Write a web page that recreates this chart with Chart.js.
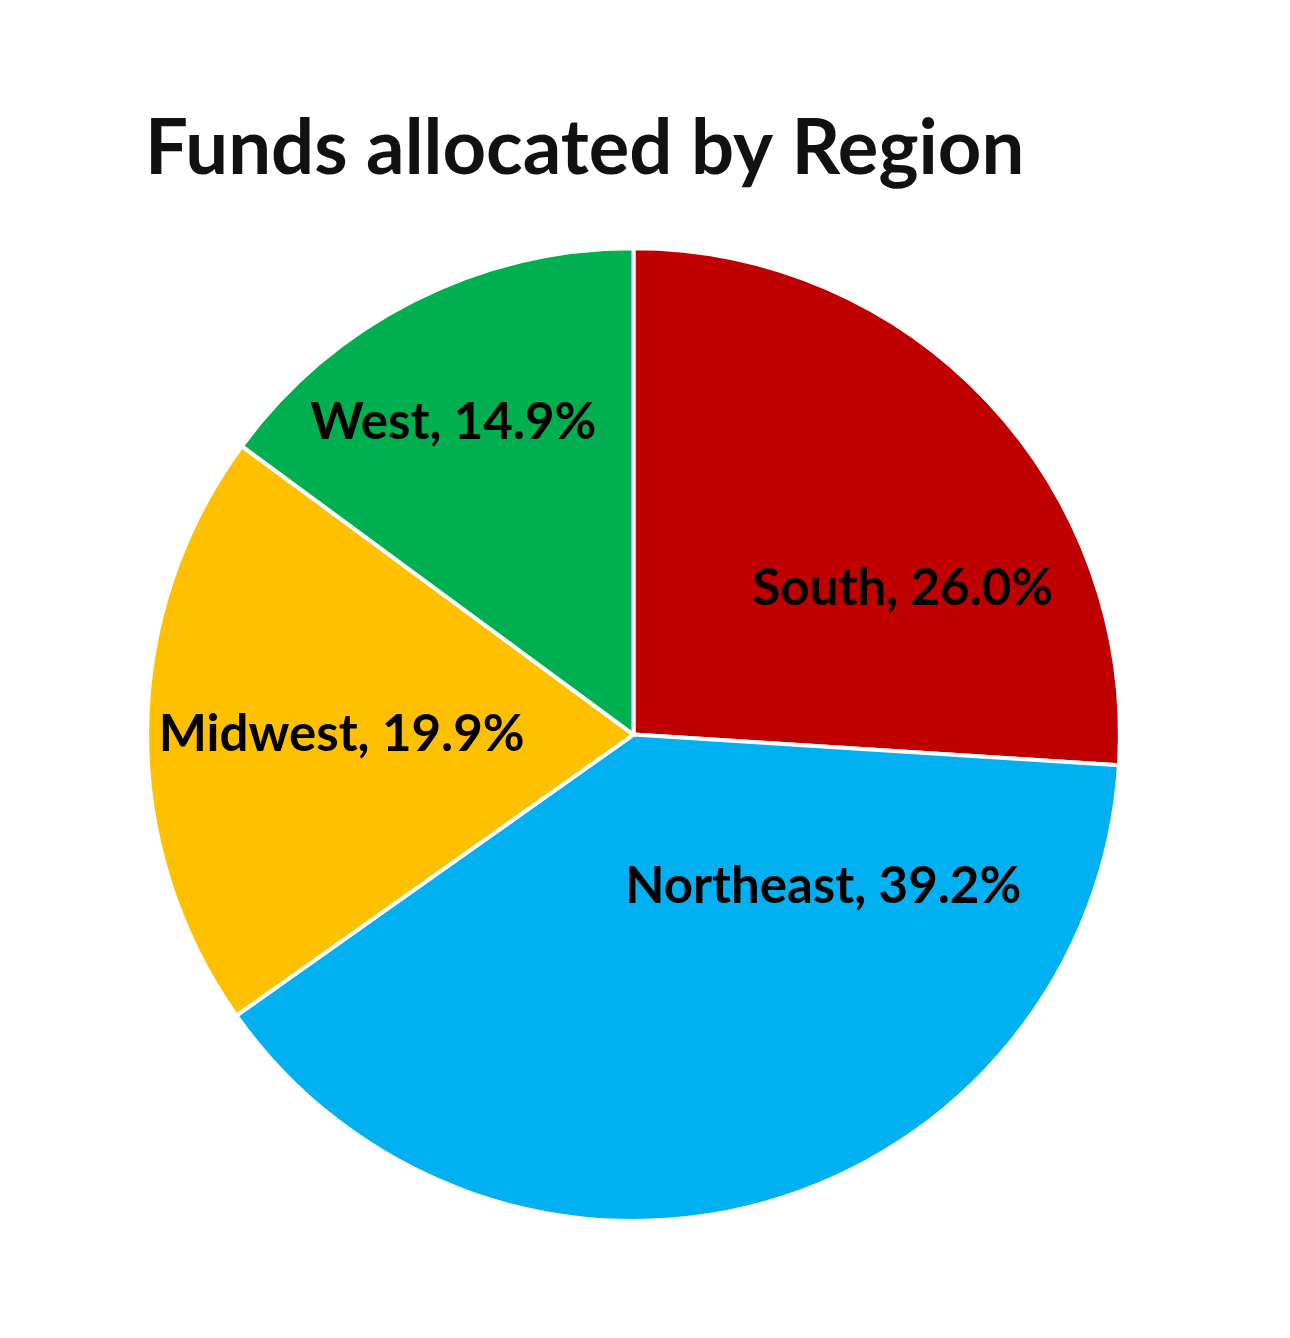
<!DOCTYPE html>
<html>
<head>
<meta charset="utf-8">
<script src="https://cdn.jsdelivr.net/npm/chart.js@4.4.1/dist/chart.umd.min.js"></script>
<style>
  html, body { margin: 0; padding: 0; background: #ffffff; }
  #wrap { width: 1290px; height: 1338px; }
</style>
</head>
<body>
<div id="wrap"><canvas id="myChart"></canvas></div>
<script>
// Dados do grafico
const regions = ['South', 'Northeast', 'Midwest', 'West'];
const shares = [26.0, 39.2, 19.9, 14.9];
const sliceColors = ['#C00000', '#00B0F0', '#FFC000', '#00B050'];

// Onde cada rotulo fica: fracao do angulo da fatia e fracao do raio
const labelSpot = [
    { along: 0.657, radius: 0.63 },
    { along: 0.249, radius: 0.50 },
    { along: 0.493, radius: 0.60 },
    { along: 0.44, radius: 0.74 }
];

const fontFamily = "Lato, 'Open Sans', sans-serif";

// Plugin para os rotulos dentro das fatias
const sliceLabels = {
    id: 'sliceLabels',
    afterDatasetsDraw(chart) {
        const ctx = chart.ctx;
        const arcs = chart.getDatasetMeta(0).data;
        ctx.save();
        ctx.font = `bold 51px ${fontFamily}`;
        ctx.fillStyle = '#000000';
        ctx.textAlign = 'center';
        ctx.textBaseline = 'middle';
        arcs.forEach((arc, i) => {
            const spot = labelSpot[i];
            const ang = arc.startAngle + (arc.endAngle - arc.startAngle) * spot.along;
            const r = arc.outerRadius * spot.radius;
            const x = arc.x + Math.cos(ang) * r;
            const y = arc.y + Math.sin(ang) * r;
            ctx.fillText(`${regions[i]}, ${shares[i].toFixed(1)}%`, x, y);
        });
        ctx.restore();
    }
};

const ctx = document.getElementById('myChart').getContext('2d');

const myChart = new Chart(ctx, {
    type: 'pie',
    data: {
        labels: regions,
        datasets: [{
            data: shares,
            backgroundColor: sliceColors,
            borderColor: '#ffffff',
            borderWidth: 4
        }]
    },
    options: {
        responsive: true,
        maintainAspectRatio: false,
        animation: false,
        layout: {
            padding: { top: 0, left: 145, right: 168, bottom: 115 }
        },
        plugins: {
            legend: { display: false },
            tooltip: { enabled: false },
            title: {
                display: true,
                text: 'Funds allocated by Region',
                align: 'start',
                color: '#111111',
                font: { family: fontFamily, size: 76, weight: 'bold' },
                padding: { top: 104, bottom: 51 }
            }
        }
    },
    plugins: [sliceLabels]
});
</script>
</body>
</html>
